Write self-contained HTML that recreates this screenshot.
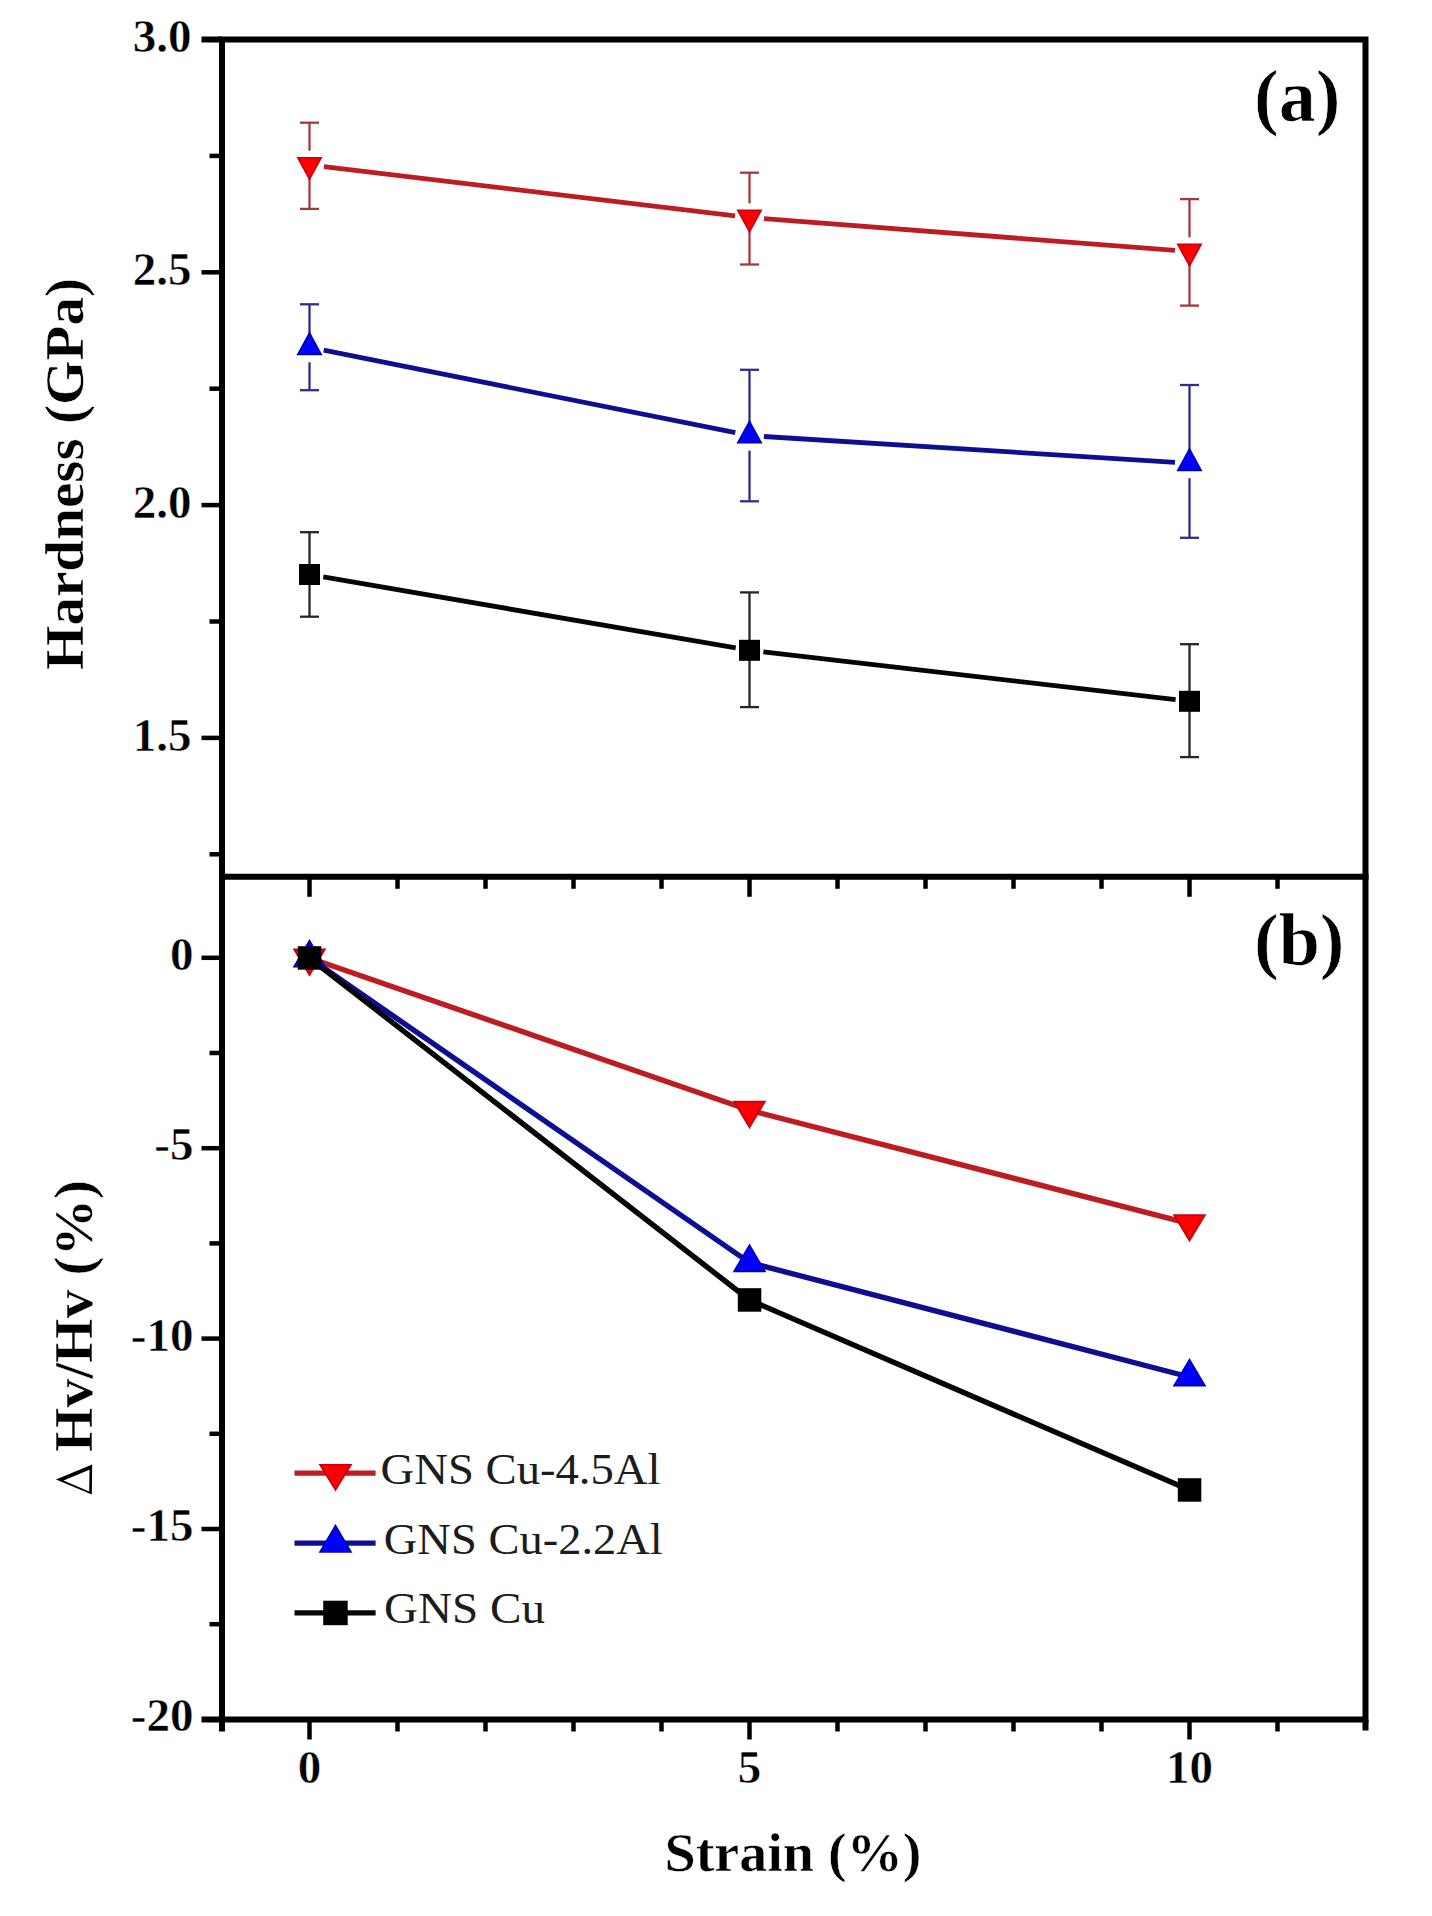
<!DOCTYPE html><html><head><meta charset="utf-8"><style>html,body{margin:0;padding:0;background:#fff;}svg{display:block;}</style></head><body>
<svg width="1432" height="1916" viewBox="0 0 1432 1916">
<rect width="1432" height="1916" fill="#fff"/>
<g>
<g stroke="#000" stroke-width="4.5" stroke-linecap="butt">
<line x1="201.5" y1="272.3" x2="222.0" y2="272.3"/>
<line x1="201.5" y1="505.1" x2="222.0" y2="505.1"/>
<line x1="201.5" y1="737.9" x2="222.0" y2="737.9"/>
<line x1="209.5" y1="155.9" x2="222.0" y2="155.9"/>
<line x1="209.5" y1="388.7" x2="222.0" y2="388.7"/>
<line x1="209.5" y1="621.5" x2="222.0" y2="621.5"/>
<line x1="209.5" y1="854.3" x2="222.0" y2="854.3"/>
<line x1="201.5" y1="957.8" x2="222.0" y2="957.8"/>
<line x1="201.5" y1="1148.2" x2="222.0" y2="1148.2"/>
<line x1="201.5" y1="1338.6" x2="222.0" y2="1338.6"/>
<line x1="201.5" y1="1529.0" x2="222.0" y2="1529.0"/>
<line x1="209.5" y1="1053.0" x2="222.0" y2="1053.0"/>
<line x1="209.5" y1="1243.4" x2="222.0" y2="1243.4"/>
<line x1="209.5" y1="1433.8" x2="222.0" y2="1433.8"/>
<line x1="209.5" y1="1624.2" x2="222.0" y2="1624.2"/>
<line x1="309.5" y1="876.8" x2="309.5" y2="896.8"/>
<line x1="397.5" y1="876.8" x2="397.5" y2="888.8"/>
<line x1="485.5" y1="876.8" x2="485.5" y2="888.8"/>
<line x1="573.5" y1="876.8" x2="573.5" y2="888.8"/>
<line x1="661.5" y1="876.8" x2="661.5" y2="888.8"/>
<line x1="749.5" y1="876.8" x2="749.5" y2="896.8"/>
<line x1="837.5" y1="876.8" x2="837.5" y2="888.8"/>
<line x1="925.5" y1="876.8" x2="925.5" y2="888.8"/>
<line x1="1013.5" y1="876.8" x2="1013.5" y2="888.8"/>
<line x1="1101.5" y1="876.8" x2="1101.5" y2="888.8"/>
<line x1="1189.5" y1="876.8" x2="1189.5" y2="896.8"/>
<line x1="1277.5" y1="876.8" x2="1277.5" y2="888.8"/>
<line x1="309.5" y1="1719.5" x2="309.5" y2="1739.5"/>
<line x1="397.5" y1="1719.5" x2="397.5" y2="1731.5"/>
<line x1="485.5" y1="1719.5" x2="485.5" y2="1731.5"/>
<line x1="573.5" y1="1719.5" x2="573.5" y2="1731.5"/>
<line x1="661.5" y1="1719.5" x2="661.5" y2="1731.5"/>
<line x1="749.5" y1="1719.5" x2="749.5" y2="1739.5"/>
<line x1="837.5" y1="1719.5" x2="837.5" y2="1731.5"/>
<line x1="925.5" y1="1719.5" x2="925.5" y2="1731.5"/>
<line x1="1013.5" y1="1719.5" x2="1013.5" y2="1731.5"/>
<line x1="1101.5" y1="1719.5" x2="1101.5" y2="1731.5"/>
<line x1="1189.5" y1="1719.5" x2="1189.5" y2="1739.5"/>
<line x1="1277.5" y1="1719.5" x2="1277.5" y2="1731.5"/>
</g>
<g stroke="#000" stroke-width="6" stroke-linecap="butt">
<line x1="201.5" y1="39.5" x2="222.0" y2="39.5"/>
<line x1="201.5" y1="1719.5" x2="222.0" y2="1719.5"/>
<line x1="222.0" y1="1719.5" x2="222.0" y2="1731.5"/>
<line x1="1365.5" y1="1719.5" x2="1365.5" y2="1730.5"/>
</g>
<g stroke="#000" stroke-width="6" fill="none" stroke-linecap="square">
<rect x="222.0" y="39.5" width="1143.5" height="1680.0"/>
<line x1="222.0" y1="876.8" x2="1365.5" y2="876.8"/>
</g>
<g stroke="#a23a42" stroke-width="2.3" fill="none"><line x1="309.5" y1="122.7" x2="309.5" y2="150.7"/><line x1="309.5" y1="174.9" x2="309.5" y2="208.9"/><line x1="300.0" y1="122.7" x2="319.0" y2="122.7"/><line x1="300.0" y1="208.9" x2="319.0" y2="208.9"/><line x1="749.5" y1="172.7" x2="749.5" y2="203.3"/><line x1="749.5" y1="227.5" x2="749.5" y2="264.5"/><line x1="740.0" y1="172.7" x2="759.0" y2="172.7"/><line x1="740.0" y1="264.5" x2="759.0" y2="264.5"/><line x1="1189.5" y1="199.1" x2="1189.5" y2="237.3"/><line x1="1189.5" y1="261.5" x2="1189.5" y2="305.6"/><line x1="1180.0" y1="199.1" x2="1199.0" y2="199.1"/><line x1="1180.0" y1="305.6" x2="1199.0" y2="305.6"/></g>
<g stroke="#2e2e8a" stroke-width="2.3" fill="none"><line x1="309.5" y1="304.3" x2="309.5" y2="337.3"/><line x1="309.5" y1="362.3" x2="309.5" y2="390.2"/><line x1="300.0" y1="304.3" x2="319.0" y2="304.3"/><line x1="300.0" y1="390.2" x2="319.0" y2="390.2"/><line x1="749.5" y1="369.8" x2="749.5" y2="425.6"/><line x1="749.5" y1="450.6" x2="749.5" y2="501.3"/><line x1="740.0" y1="369.8" x2="759.0" y2="369.8"/><line x1="740.0" y1="501.3" x2="759.0" y2="501.3"/><line x1="1189.5" y1="385" x2="1189.5" y2="453.2"/><line x1="1189.5" y1="478.2" x2="1189.5" y2="537.8"/><line x1="1180.0" y1="385" x2="1199.0" y2="385"/><line x1="1180.0" y1="537.8" x2="1199.0" y2="537.8"/></g>
<g stroke="#262626" stroke-width="2.3" fill="none"><line x1="309.5" y1="532.2" x2="309.5" y2="566.5"/><line x1="309.5" y1="582.5" x2="309.5" y2="616.7"/><line x1="300.0" y1="532.2" x2="319.0" y2="532.2"/><line x1="300.0" y1="616.7" x2="319.0" y2="616.7"/><line x1="749.5" y1="592.4" x2="749.5" y2="642.3"/><line x1="749.5" y1="658.3" x2="749.5" y2="707.1"/><line x1="740.0" y1="592.4" x2="759.0" y2="592.4"/><line x1="740.0" y1="707.1" x2="759.0" y2="707.1"/><line x1="1189.5" y1="644.2" x2="1189.5" y2="693.3"/><line x1="1189.5" y1="709.3" x2="1189.5" y2="757.1"/><line x1="1180.0" y1="644.2" x2="1199.0" y2="644.2"/><line x1="1180.0" y1="757.1" x2="1199.0" y2="757.1"/></g>
<line x1="323.9" y1="166.6" x2="735.1" y2="215.8" stroke="#bc1c22" stroke-width="4.8"/><line x1="764.0" y1="218.6" x2="1175.0" y2="250.4" stroke="#bc1c22" stroke-width="4.8"/>
<line x1="323.7" y1="350.2" x2="735.3" y2="432.7" stroke="#0e0e92" stroke-width="4.8"/><line x1="764.0" y1="436.5" x2="1175.0" y2="462.3" stroke="#0e0e92" stroke-width="4.8"/>
<line x1="323.3" y1="576.9" x2="735.7" y2="647.9" stroke="#050505" stroke-width="4.8"/><line x1="763.4" y1="651.9" x2="1175.6" y2="699.7" stroke="#050505" stroke-width="4.8"/>
<path d="M297.8,157.7L321.2,157.7L309.5,179.2Z" fill="#ff0000" stroke="#c80010" stroke-width="1.6" stroke-linejoin="miter"/>
<path d="M737.8,210.3L761.2,210.3L749.5,231.8Z" fill="#ff0000" stroke="#c80010" stroke-width="1.6" stroke-linejoin="miter"/>
<path d="M1177.8,244.3L1201.2,244.3L1189.5,265.8Z" fill="#ff0000" stroke="#c80010" stroke-width="1.6" stroke-linejoin="miter"/>
<path d="M297.8,354.5L321.2,354.5L309.5,333.0Z" fill="#0000ff" stroke="#0000b8" stroke-width="1.6"/>
<path d="M737.8,442.8L761.2,442.8L749.5,421.3Z" fill="#0000ff" stroke="#0000b8" stroke-width="1.6"/>
<path d="M1177.8,470.4L1201.2,470.4L1189.5,448.9Z" fill="#0000ff" stroke="#0000b8" stroke-width="1.6"/>
<path d="M299.0,564.0h21v21h-21Z" fill="#000"/>
<path d="M739.0,639.8h21v21h-21Z" fill="#000"/>
<path d="M1179.0,690.8h21v21h-21Z" fill="#000"/>
<polyline points="309.5,958.0 749.5,1110.2 1189.5,1223.6" fill="none" stroke="#bc1c22" stroke-width="5.4" stroke-linejoin="round"/>
<polyline points="309.5,958.0 749.5,1262.6 1189.5,1377.0" fill="none" stroke="#0e0e92" stroke-width="5.4" stroke-linejoin="round"/>
<polyline points="309.5,958.0 749.5,1300.0 1189.5,1490.0" fill="none" stroke="#050505" stroke-width="5.4" stroke-linejoin="round"/>
<path d="M294.2,949.5L324.8,949.5L309.5,975.0Z" fill="#ff0000" stroke="#c80010" stroke-width="1.8"/>
<path d="M734.2,1101.7L764.8,1101.7L749.5,1127.2Z" fill="#ff0000" stroke="#c80010" stroke-width="1.8"/>
<path d="M1174.2,1215.1L1204.8,1215.1L1189.5,1240.6Z" fill="#ff0000" stroke="#c80010" stroke-width="1.8"/>
<path d="M294.2,966.7L324.8,966.7L309.5,940.7Z" fill="#0000ff" stroke="#0000b8" stroke-width="1.8"/>
<path d="M734.2,1271.3L764.8,1271.3L749.5,1245.3Z" fill="#0000ff" stroke="#0000b8" stroke-width="1.8"/>
<path d="M1174.2,1385.7L1204.8,1385.7L1189.5,1359.7Z" fill="#0000ff" stroke="#0000b8" stroke-width="1.8"/>
<path d="M297.8,946.2h23.5v23.5h-23.5Z" fill="#000"/>
<path d="M737.8,1288.2h23.5v23.5h-23.5Z" fill="#000"/>
<path d="M1177.8,1478.2h23.5v23.5h-23.5Z" fill="#000"/>
<line x1="294.5" y1="1473.2" x2="375.6" y2="1473.2" stroke="#bc1c22" stroke-width="5.2"/>
<path d="M320.0,1464.9L351.0,1464.9L335.5,1489.9Z" fill="#ff0000" stroke="#c80010" stroke-width="1.6"/>
<text x="380.5" y="1483.7" font-family="Liberation Serif" font-size="44" fill="#1c1c1c" textLength="280" lengthAdjust="spacingAndGlyphs">GNS Cu-4.5Al</text>
<line x1="294.5" y1="1543.2" x2="375.6" y2="1543.2" stroke="#0e0e92" stroke-width="5.2"/>
<path d="M320.0,1552.0L351.0,1552.0L335.5,1525.5Z" fill="#0000ff" stroke="#0000b8" stroke-width="1.6"/>
<text x="383.8" y="1553.9" font-family="Liberation Serif" font-size="44" fill="#1c1c1c" textLength="279" lengthAdjust="spacingAndGlyphs">GNS Cu-2.2Al</text>
<line x1="294.5" y1="1612.9" x2="375.6" y2="1612.9" stroke="#050505" stroke-width="5.2"/>
<path d="M323.2,1600.7h24.5v24.5h-24.5Z" fill="#000"/>
<text x="384" y="1623.0" font-family="Liberation Serif" font-size="44" fill="#1c1c1c" textLength="161" lengthAdjust="spacingAndGlyphs">GNS Cu</text>
<g font-family="Liberation Serif" font-weight="bold" font-size="47" fill="#000" stroke="#fff" stroke-width="0.45">
<text x="191.5" y="52.1" text-anchor="end">3.0</text>
<text x="191.5" y="284.9" text-anchor="end">2.5</text>
<text x="191.5" y="517.7" text-anchor="end">2.0</text>
<text x="191.5" y="750.5" text-anchor="end">1.5</text>
<text x="193.5" y="969.8" text-anchor="end">0</text>
<text x="193.5" y="1160.2" text-anchor="end">-5</text>
<text x="193.5" y="1350.6" text-anchor="end">-10</text>
<text x="193.5" y="1541.0" text-anchor="end">-15</text>
<text x="193.5" y="1731.4" text-anchor="end">-20</text>
<text x="309.5" y="1783" text-anchor="middle">0</text>
<text x="749.5" y="1783" text-anchor="middle">5</text>
<text x="1189.5" y="1783" text-anchor="middle">10</text>
</g>
<text x="1254" y="120.6" font-family="Liberation Serif" font-weight="bold" font-size="74" stroke="#fff" stroke-width="0.7">(a)</text>
<text x="1254" y="964.5" font-family="Liberation Serif" font-weight="bold" font-size="74" stroke="#fff" stroke-width="0.7">(b)</text>
<text transform="translate(83.2,474) rotate(-90)" text-anchor="middle" font-family="Liberation Serif" font-weight="bold" font-size="54.5" textLength="392" lengthAdjust="spacingAndGlyphs" stroke="#fff" stroke-width="0.5">Hardness (GPa)</text>
<text transform="translate(92.0,1316) rotate(-90)" text-anchor="middle" font-family="Liberation Serif" font-weight="bold" font-size="55.5" textLength="272" lengthAdjust="spacingAndGlyphs" stroke="#fff" stroke-width="0.5">Hv/Hv (%)</text>
<path d="M56.0,1479.5L92.2,1464.6L91.8,1494.6ZM63.5,1480.5L89.5,1469.8L89.2,1491.4Z" fill="#000" fill-rule="evenodd"/>
<text x="793" y="1870.5" text-anchor="middle" font-family="Liberation Serif" font-weight="bold" font-size="54" textLength="257" lengthAdjust="spacingAndGlyphs" stroke="#fff" stroke-width="0.5">Strain (%)</text>
</g>
</svg></body></html>
